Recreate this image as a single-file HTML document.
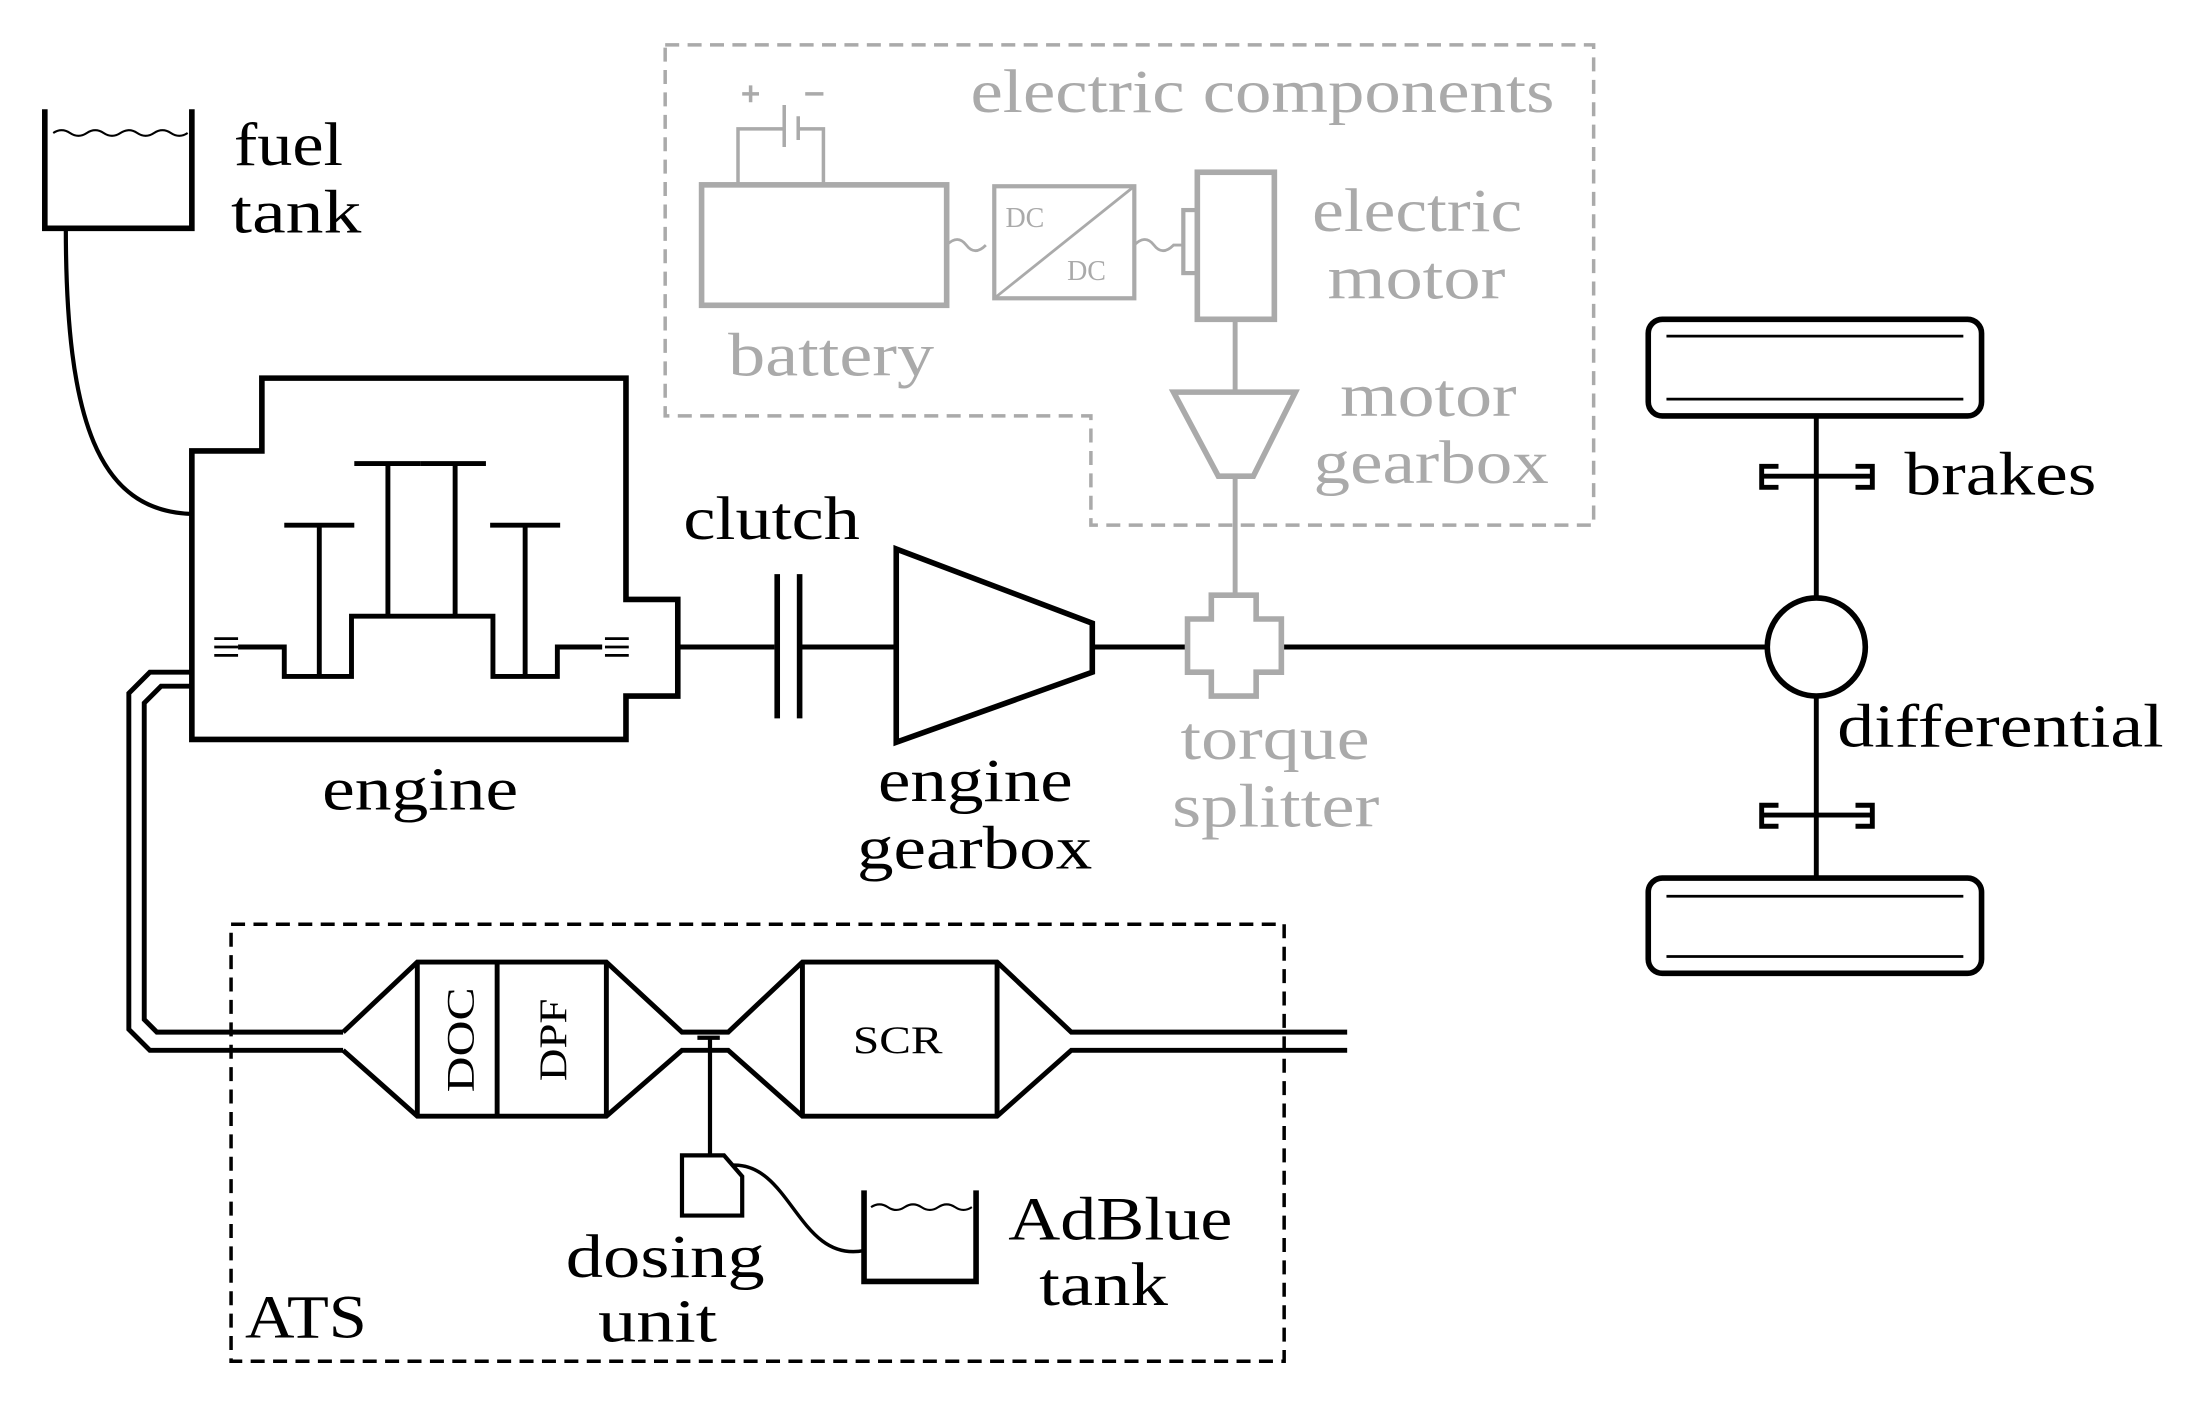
<!DOCTYPE html>
<html><head><meta charset="utf-8"><style>
html,body{margin:0;padding:0;background:#fff;width:2186px;height:1401px;overflow:hidden}
svg{display:block}
text{font-family:"Liberation Serif","DejaVu Serif",serif;font-size:44px}
.g{fill:#aaa}
</style></head><body>
<svg width="2186" height="1401" viewBox="0 0 1561 1000.4" preserveAspectRatio="none" xmlns="http://www.w3.org/2000/svg">
<g fill="none" stroke="#000" stroke-width="4">
<path d="M32,78 V163 H137 V78"/>
<path d="M38,95 q6,-4 12,0 t12,0 t12,0 t12,0 t12,0 t12,0 t12,0 t12,0" stroke-width="1.5"/>
<path d="M47,163 C47,300 70,365 137,367" stroke-width="3"/>
<path d="M137,322 H187 V270 H447 V428 H484 V497 H447 V528 H137 Z"/>
<g stroke-width="3.5">
<path d="M170,462 H203 V483 H251 V440 H352 V483 H398 V462 H430"/>
<path d="M203,375 H253 M228,375 V483"/>
<path d="M253,331 H300 M277,331 V440"/>
<path d="M300,331 H347 M325,331 V440"/>
<path d="M350,375 H400 M375,375 V483"/>
<path d="M153,456 H170 M153,462 H170 M153,468 H170" stroke-width="2"/>
<path d="M432,456 H449 M432,462 H449 M432,468 H449" stroke-width="2"/>
</g>
<path d="M484,462 H553 M571,462 H640" stroke-width="3.5"/>
<path d="M555,410 V513 M571,410 V513"/>
<path d="M640,392 L780,445 V480 L640,530 Z"/>
<path d="M780,462 H848 M915,462 H1262" stroke-width="3.5"/>
<circle cx="1297" cy="462" r="35"/>
<path d="M1297,297 V427 M1297,497 V627" stroke-width="3.5"/>
<rect x="1177" y="228" width="238" height="69" rx="10"/>
<path d="M1190,240 H1402 M1190,285 H1402" stroke-width="2"/>
<rect x="1177" y="627" width="238" height="68" rx="10"/>
<path d="M1190,640 H1402 M1190,683 H1402" stroke-width="2"/>
<path d="M1258,340 H1337 M1270,333 H1258 V348 H1270 M1325,333 H1337 V348 H1325" stroke-width="3.5"/>
<path d="M1258,582 H1337 M1270,575 H1258 V590 H1270 M1325,575 H1337 V590 H1325" stroke-width="3.5"/>
<path d="M137,480 H107 L92,495 V735 L107,750 H245" stroke-width="3.5"/>
<path d="M137,490 H115 L103,502 V728 L112,737 H245" stroke-width="3.5"/>
<path d="M245,737 L298,687 H433 L487,737 H520 L573,687 H712 L765,737 H962" stroke-width="3.5"/>
<path d="M245,750 L298,797 H433 L487,750 H520 L573,797 H712 L765,750 H962" stroke-width="3.5"/>
<path d="M298,687 V797 M355,687 V797 M433,687 V797 M573,687 V797 M712,687 V797" stroke-width="3.5"/>
<path d="M507,741 V825 M498,741 H514" stroke-width="3"/>
<path d="M487,825 H517 L530,840 V868 H487 Z" stroke-width="3"/>
<path d="M523,832 C565,830 570,902 617,893" stroke-width="2.5"/>
<path d="M617,850 V915 H697 V850"/>
<path d="M622,862 q6,-4 12,0 t12,0 t12,0 t12,0 t12,0 t12,0" stroke-width="1.5"/>
<rect x="165" y="660" width="752" height="312" stroke-dasharray="10,6" stroke-width="2.5"/>
</g>
<g fill="none" stroke="#aaa" stroke-width="4">
<path d="M475,32 H1138 V375 H779 V297 H475 Z" stroke-dasharray="10,6" stroke-width="2.5"/>
<rect x="501" y="132" width="175" height="86"/>
<path d="M527,132 V92 H560 M588,132 V92 H570 M560,75 V105 M570,83 V100 M530,67 H542 M536,61 V73 M575,67 H588" stroke-width="2.5"/>
<rect x="710" y="133" width="100" height="80" stroke-width="3"/>
<path d="M710,213 L810,133" stroke-width="2"/>
<path d="M676,175 q8,-8 14,0 t14,0 M810,175 q8,-8 14,0 t14,0 h8" stroke-width="2"/>
<rect x="855" y="123" width="55" height="105"/>
<rect x="845" y="150" width="10" height="45" stroke-width="3"/>
<path d="M882,228 V280 M882,340 V425" stroke-width="3.5"/>
<path d="M838,280 H925 L895,340 H870 Z"/>
<path d="M865,425 H897 V442 H915 V480 H897 V497 H865 V480 H848 V442 H865 Z"/>
</g>
<text x="718" y="162" style="font-size:20px" class="g">DC</text>
<text x="762" y="200" style="font-size:20px" class="g">DC</text>
<text x="693" y="80" class="g" textLength="417" lengthAdjust="spacingAndGlyphs">electric components</text>
<text x="937" y="165" class="g" textLength="150" lengthAdjust="spacingAndGlyphs">electric</text>
<text x="948" y="213" class="g" textLength="127" lengthAdjust="spacingAndGlyphs">motor</text>
<text x="520" y="268" class="g" textLength="147" lengthAdjust="spacingAndGlyphs">battery</text>
<text x="957" y="297" class="g" textLength="126" lengthAdjust="spacingAndGlyphs">motor</text>
<text x="938" y="345" class="g" textLength="168" lengthAdjust="spacingAndGlyphs">gearbox</text>
<text x="843" y="542" class="g" textLength="135" lengthAdjust="spacingAndGlyphs">torque</text>
<text x="837" y="590" class="g" textLength="148" lengthAdjust="spacingAndGlyphs">splitter</text>
<text x="167" y="118" textLength="78" lengthAdjust="spacingAndGlyphs">fuel</text>
<text x="165" y="166" textLength="93" lengthAdjust="spacingAndGlyphs">tank</text>
<text x="230" y="578" textLength="140" lengthAdjust="spacingAndGlyphs">engine</text>
<text x="488" y="385" textLength="126" lengthAdjust="spacingAndGlyphs">clutch</text>
<text x="627" y="572" textLength="139" lengthAdjust="spacingAndGlyphs">engine</text>
<text x="612" y="620" textLength="168" lengthAdjust="spacingAndGlyphs">gearbox</text>
<text x="1360" y="353" textLength="137" lengthAdjust="spacingAndGlyphs">brakes</text>
<text x="1312" y="533" textLength="233" lengthAdjust="spacingAndGlyphs">differential</text>
<text x="175" y="955" textLength="87" lengthAdjust="spacingAndGlyphs">ATS</text>
<text x="404" y="912" textLength="142" lengthAdjust="spacingAndGlyphs">dosing</text>
<text x="427" y="958" textLength="85" lengthAdjust="spacingAndGlyphs">unit</text>
<text x="720" y="885" textLength="160" lengthAdjust="spacingAndGlyphs">AdBlue</text>
<text x="742" y="932" textLength="92" lengthAdjust="spacingAndGlyphs">tank</text>
<text x="609" y="752" style="font-size:28px" textLength="64" lengthAdjust="spacingAndGlyphs">SCR</text>
<text transform="translate(338,780) rotate(-90)" style="font-size:28px" textLength="75" lengthAdjust="spacingAndGlyphs">DOC</text>
<text transform="translate(404,772) rotate(-90)" style="font-size:28px" textLength="59" lengthAdjust="spacingAndGlyphs">DPF</text>
</svg>
</body></html>
